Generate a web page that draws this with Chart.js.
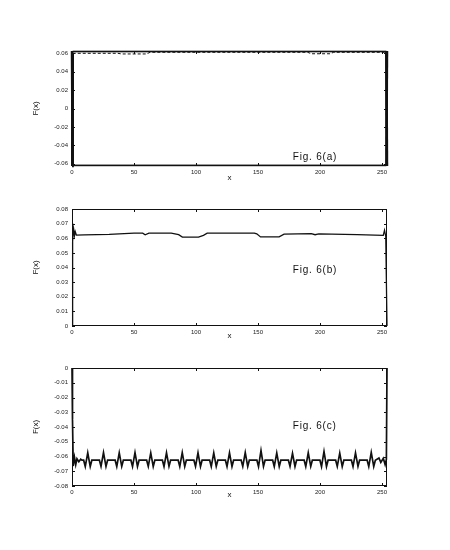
<!DOCTYPE html>
<html><head><meta charset="utf-8">
<script src="https://cdn.jsdelivr.net/npm/chart.js@4/dist/chart.umd.min.js"></script>
<style>
body{margin:0;background:#fff;width:450px;height:550px;overflow:hidden;position:relative}
.p{position:absolute;left:0;width:450px;height:150px}
</style></head><body>
<div class="p" style="top:40px"><canvas id="ca" width="450" height="150"></canvas></div>
<div class="p" style="top:198px"><canvas id="cb" width="450" height="150"></canvas></div>
<div class="p" style="top:357px"><canvas id="cc" width="450" height="150"></canvas></div>
<script>
// ---- tick labels ----
const xTicks = [0, 50, 100, 150, 200, 250];
const aYTicks = [-0.06, -0.04, -0.02, 0, 0.02, 0.04, 0.06];
const bYTicks = [0, 0.01, 0.02, 0.03, 0.04, 0.05, 0.06, 0.07, 0.08];
const cYTicks = [-0.08, -0.07, -0.06, -0.05, -0.04, -0.03, -0.02, -0.01, 0];
const figLabels = ["Fig. 6(a)", "Fig. 6(b)", "Fig. 6(c)"];

// ---- panel (a) ----
const aDashX = [0, 0.6, 37, 40, 60, 63, 190, 193, 208, 211, 253.4, 254];
const aDashY = [-0.0625, 0.0600, 0.0600, 0.0593, 0.0593, 0.0611, 0.0611, 0.0595, 0.0595, 0.0611, 0.0611, -0.0625];
const aTopX = [0, 0.5, 253.5, 254];
const aTopY = [-0.0625, 0.0619, 0.0619, -0.0625];
const aBotX = [0, 0.5, 253.5, 254];
const aBotY = [0.0625, -0.0616, -0.0616, 0.0625];

// ---- panel (b) ----
const bX = [0, 0.5, 1.3, 2, 2.6, 3.5, 10, 30, 50, 57, 59, 62, 80, 86, 89, 102, 106, 109, 147, 149, 152, 167, 171, 193, 196, 199, 230, 251, 252, 253, 254];
const bY = [0, 0.058, 0.0665, 0.0618, 0.0645, 0.0622, 0.0623, 0.0627, 0.0635, 0.0635, 0.0624, 0.0635, 0.0635, 0.0625, 0.0608, 0.0608, 0.0620, 0.0635, 0.0635, 0.0630, 0.0609, 0.0609, 0.0628, 0.0632, 0.0624, 0.0630, 0.0625, 0.0620, 0.0655, 0.0612, 0];

// ---- panel (c) ----
const cX = [0, 0.4, 1, 2, 3, 4, 5.5, 7, 8,
  9.4, 10.7, 12.7, 14.7, 16.0,
  22.1, 23.4, 25.4, 27.4, 28.7,
  34.8, 36.1, 38.1, 40.1, 41.4,
  47.5, 48.8, 50.8, 52.8, 54.1,
  60.2, 61.5, 63.5, 65.5, 66.8,
  72.9, 74.2, 76.2, 78.2, 79.5,
  85.6, 86.9, 88.9, 90.9, 92.2,
  98.3, 99.6, 101.6, 103.6, 104.9,
  111.0, 112.3, 114.3, 116.3, 117.6,
  123.7, 125.0, 127.0, 129.0, 130.3,
  136.4, 137.7, 139.7, 141.7, 143.0,
  149.1, 150.4, 152.4, 154.4, 155.7,
  161.8, 163.1, 165.1, 167.1, 168.4,
  174.5, 175.8, 177.8, 179.8, 181.1,
  187.2, 188.5, 190.5, 192.5, 193.8,
  199.9, 201.2, 203.2, 205.2, 206.5,
  212.6, 213.9, 215.9, 217.9, 219.2,
  225.3, 226.6, 228.6, 230.6, 231.9,
  238.0, 239.3, 241.3, 243.3, 244.6,
  247.5, 249, 251, 252.5, 253.5, 254];
const cY = [0, -0.035, -0.0665, -0.0605, -0.0655, -0.0615, -0.0635, -0.0618, -0.0625,
  -0.0625, -0.0668, -0.0575, -0.0668, -0.0625,
  -0.0625, -0.0667, -0.0574, -0.0668, -0.0625,
  -0.0625, -0.0668, -0.0575, -0.0667, -0.0625,
  -0.0625, -0.0668, -0.0573, -0.0668, -0.0625,
  -0.0625, -0.0667, -0.0576, -0.0668, -0.0625,
  -0.0625, -0.0668, -0.0575, -0.0667, -0.0625,
  -0.0625, -0.0668, -0.0574, -0.0668, -0.0625,
  -0.0625, -0.0667, -0.0575, -0.0668, -0.0625,
  -0.0625, -0.0668, -0.0576, -0.0667, -0.0625,
  -0.0625, -0.0668, -0.0575, -0.0668, -0.0625,
  -0.0625, -0.0667, -0.0574, -0.0668, -0.0625,
  -0.0625, -0.0668, -0.0560, -0.0667, -0.0625,
  -0.0625, -0.0668, -0.0576, -0.0668, -0.0625,
  -0.0625, -0.0667, -0.0578, -0.0668, -0.0625,
  -0.0625, -0.0668, -0.0575, -0.0667, -0.0625,
  -0.0625, -0.0668, -0.0566, -0.0668, -0.0625,
  -0.0625, -0.0667, -0.0577, -0.0668, -0.0625,
  -0.0625, -0.0668, -0.0576, -0.0667, -0.0625,
  -0.0625, -0.0668, -0.0572, -0.0668, -0.0625,
  -0.0610, -0.0640, -0.0612, -0.0655, -0.0620, 0];

const pts = (xs, ys) => xs.map((x, i) => ({x, y: ys[i]}));
const FONT = '"Liberation Sans", Arial, sans-serif';
const isVert = c => Math.abs(c.p1.parsed.x - c.p0.parsed.x) < 1 && Math.abs(c.p1.parsed.y - c.p0.parsed.y) > 0.02;

const framePlugin = {
  id: 'frame',
  afterDatasetsDraw(chart, args, o) {
    const {ctx, chartArea: a, scales: {x, y}} = chart;
    ctx.save();
    ctx.strokeStyle = '#111';
    ctx.lineWidth = 1;
    ctx.strokeRect(a.left + 0.5, a.top + 0.5, a.right - a.left - 1, a.bottom - a.top - 1);
    ctx.beginPath();
    y.ticks.forEach(t => {
      const py = Math.round(y.getPixelForValue(t.value)) + 0.5;
      ctx.moveTo(a.left, py); ctx.lineTo(a.left + 3, py);
      ctx.moveTo(a.right - 3, py); ctx.lineTo(a.right, py);
    });
    x.ticks.forEach(t => {
      const px = Math.round(x.getPixelForValue(t.value)) + 0.5;
      ctx.moveTo(px, a.bottom); ctx.lineTo(px, a.bottom - 3);
      ctx.moveTo(px, a.top); ctx.lineTo(px, a.top + 3);
    });
    ctx.stroke();
    ctx.fillStyle = '#111';
    ctx.font = '10px ' + FONT;
    ctx.letterSpacing = '0.8px';
    ctx.textBaseline = 'middle';
    ctx.textAlign = 'left';
    ctx.fillText(o.text, x.getPixelForValue(o.fx), y.getPixelForValue(o.fy));
    ctx.restore();
  }
};

function mk(id, datasets, yMin, yMax, yTicks, xAxisH, fig, fy) {
  return new Chart(document.getElementById(id), {
    type: 'line',
    data: {datasets},
    options: {
      responsive: false, animation: false,
      layout: {padding: {top: 11, right: 63, left: 0, bottom: 0}},
      elements: {point: {radius: 0}, line: {tension: 0}},
      plugins: {legend: {display: false}, tooltip: {enabled: false},
        frame: {text: fig, fx: 178, fy: fy}},
      scales: {
        x: {type: 'linear', min: 0, max: 254,
          afterBuildTicks: s => { s.ticks = xTicks.map(v => ({value: v})); },
          afterFit: s => { s.height = xAxisH; },
          grid: {display: false, drawTicks: false}, border: {display: false},
          ticks: {padding: 3, font: {size: 6, family: FONT}, color: '#222', maxRotation: 0,
            callback: v => String(v)},
          title: {display: true, text: 'x', font: {size: 8, family: FONT}, color: '#111', padding: {top: 0, bottom: 7}}
        },
        y: {type: 'linear', min: yMin, max: yMax,
          afterBuildTicks: s => { s.ticks = yTicks.map(v => ({value: v})); },
          afterFit: s => { s.width = 72; },
          grid: {display: false, drawTicks: false}, border: {display: false},
          ticks: {padding: 4, font: {size: 6, family: FONT}, color: '#222',
            callback: v => String(Math.round(v * 100) / 100)},
          title: {display: true, text: 'F(x)', font: {size: 8, family: FONT}, color: '#111', padding: {top: 31, bottom: 0}}
        }
      }
    },
    plugins: [framePlugin]
  });
}

mk('ca', [
  {data: pts(aDashX, aDashY), borderColor: '#111', borderWidth: 1, borderDash: [3, 2], clip: 3,
    segment: {borderDash: c => isVert(c) ? [] : [3, 2], borderWidth: c => isVert(c) ? 2 : 1}},
  {data: pts(aTopX, aTopY), borderColor: '#999', borderWidth: 2.5, clip: 3,
    segment: {borderColor: c => isVert(c) ? '#111' : '#999'}},
  {data: pts(aBotX, aBotY), borderColor: '#999', borderWidth: 2.5, clip: 3,
    segment: {borderColor: c => isVert(c) ? '#111' : '#999'}}
], -0.0625, 0.0625, aYTicks, 24, figLabels[0], -0.0527);

mk('cb', [
  {data: pts(bX, bY), borderColor: '#111', borderWidth: 1.3, clip: 3}
], 0, 0.08, bYTicks, 22, figLabels[1], 0.0384);

mk('cc', [
  {data: pts(cX, cY), borderColor: '#111', borderWidth: 1.7, clip: 3}
], -0.08, 0, cYTicks, 21, figLabels[2], -0.0396);
</script>
</body></html>
